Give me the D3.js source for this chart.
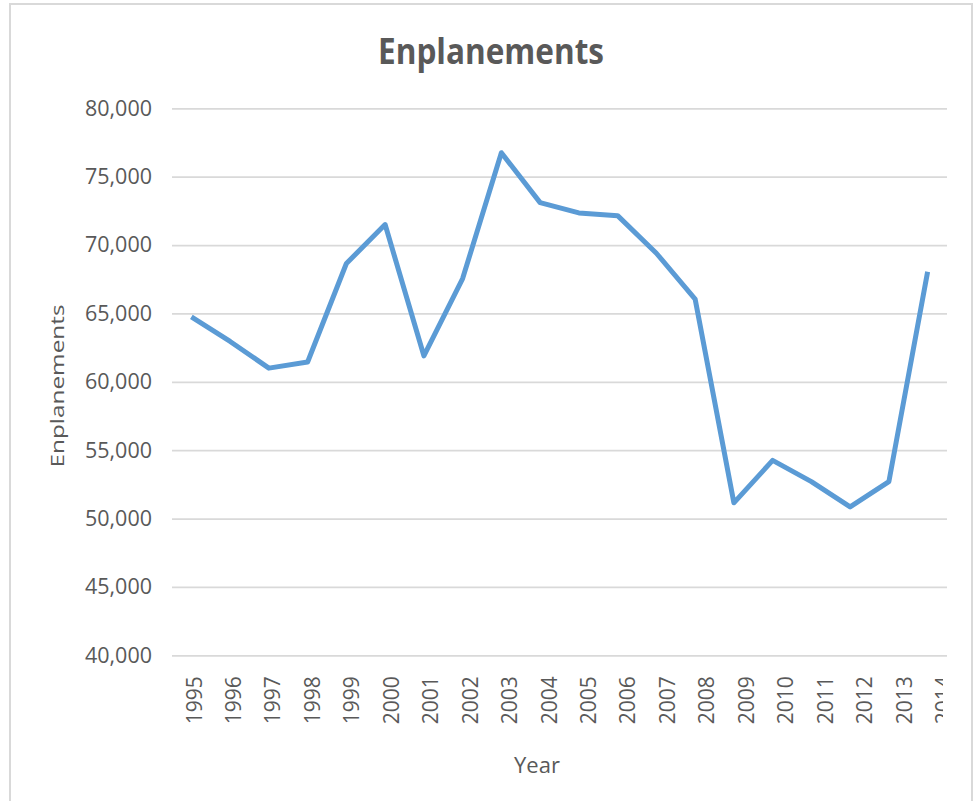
<!DOCTYPE html>
<html>
<head>
<meta charset="utf-8">
<script src="https://cdn.jsdelivr.net/npm/d3@7"></script>
<style>
  body { margin: 0; background: #fff; }
  svg { display: block; }
</style>
</head>
<body>
<svg id="chart"></svg>
<script>
// data
const years = ["1995", "1996", "1997", "1998", "1999", "2000", "2001", "2002", "2003", "2004",
  "2005", "2006", "2007", "2008", "2009", "2010", "2011", "2012", "2013", "2014"];
const enplanements = [64750, 62950, 61000, 61450, 68650, 71500, 61900, 67550, 76750, 73100,
  72350, 72150, 69400, 66050, 51150, 54250, 52700, 50850, 52700, 68050];
const yTicks = [40000, 45000, 50000, 55000, 60000, 65000, 70000, 75000, 80000];

const width = 976;
const height = 801;
const plot = { left: 172, right: 947, top: 108.3, bottom: 655.3 };
const textColor = "#595959";
const font = "'Open Sans', sans-serif";

let svg = d3.select("#chart")
  .attr("width", width)
  .attr("height", height);

// chart frame
svg.append("rect")
  .attr("x", 10)
  .attr("y", 4)
  .attr("width", 962)
  .attr("height", 820)
  .attr("fill", "#fff")
  .attr("stroke", "#d9d9d9")
  .attr("stroke-width", 2);

let xScale = d3.scaleBand()
  .domain(years)
  .range([plot.left, plot.right]);

// the labels in the original sit on a slightly wider spacing than the points
let labelScale = d3.scaleBand()
  .domain(years)
  .range([174.3, 963.1]);

let yScale = d3.scaleLinear()
  .domain([40000, 80000])
  .range([plot.bottom, plot.top]);

// gridlines + y labels
let yAxis = d3.axisLeft(yScale)
  .tickValues(yTicks)
  .tickFormat(d3.format(","))
  .tickSize(-(plot.right - plot.left))
  .tickPadding(20);

let gy = svg.append("g")
  .attr("transform", "translate(" + plot.left + ",0)")
  .call(yAxis);
gy.select(".domain").remove();
gy.selectAll(".tick line")
  .attr("stroke", "#d9d9d9")
  .attr("stroke-width", 1.7);
gy.selectAll(".tick text")
  .attr("fill", textColor)
  .style("font-family", font)
  .style("font-size", "21.5px");

// x labels, rotated, clipped at the right edge like the original
svg.append("clipPath")
  .attr("id", "xclip")
  .append("rect")
  .attr("x", 0)
  .attr("y", 0)
  .attr("width", 943)
  .attr("height", height);

let xAxis = d3.axisBottom(labelScale).tickSize(0).tickPadding(0);
let gx = svg.append("g")
  .attr("clip-path", "url(#xclip)")
  .append("g")
  .attr("transform", "translate(0," + plot.bottom + ")")
  .call(xAxis);
gx.select(".domain").remove();
gx.selectAll(".tick text")
  .attr("fill", textColor)
  .style("font-family", font)
  .style("font-size", "21px")
  .attr("text-anchor", "end")
  .attr("dy", "0.36em")
  .attr("y", 0)
  .attr("transform", "translate(0,21) rotate(-90)");

// the line
let line = d3.line()
  .x((d, i) => xScale(years[i]) + xScale.bandwidth() / 2)
  .y((d) => yScale(d));

svg.append("path")
  .datum(enplanements)
  .attr("d", line)
  .attr("fill", "none")
  .attr("stroke", "#5b9bd5")
  .attr("stroke-width", 5)
  .attr("stroke-linejoin", "round");

// titles
svg.append("text")
  .text("Enplanements")
  .attr("x", 491)
  .attr("y", 64)
  .attr("text-anchor", "middle")
  .attr("fill", textColor)
  .attr("textLength", 226)
  .attr("lengthAdjust", "spacingAndGlyphs")
  .style("font-family", font)
  .style("font-weight", "bold")
  .style("font-size", "36px");

svg.append("text")
  .text("Year")
  .attr("x", 537)
  .attr("y", 773)
  .attr("text-anchor", "middle")
  .attr("fill", textColor)
  .style("font-family", font)
  .style("font-size", "22px");

svg.append("text")
  .text("Enplanements")
  .attr("transform", "translate(64,386) rotate(-90)")
  .attr("text-anchor", "middle")
  .attr("fill", textColor)
  .attr("textLength", 163)
  .attr("lengthAdjust", "spacingAndGlyphs")
  .style("font-family", font)
  .style("font-size", "18.5px");
</script>
</body>
</html>
